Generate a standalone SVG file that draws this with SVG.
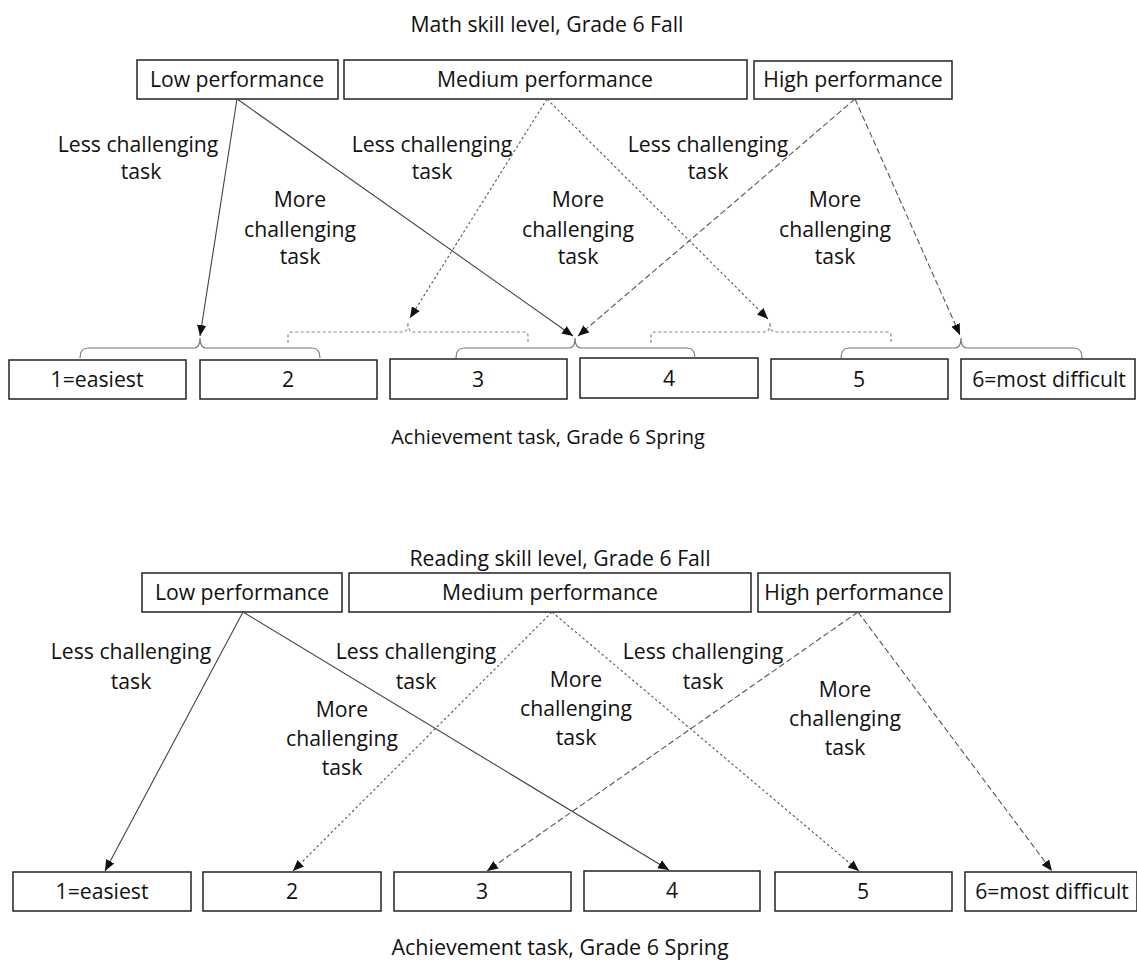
<svg xmlns="http://www.w3.org/2000/svg" width="1137" height="965" viewBox="0 0 1137 965">
<style>
text{font-family:"Open Sans","Liberation Sans",sans-serif;font-size:21.2px;fill:#111;text-anchor:middle}
text.ach{font-size:20px}
.box{fill:#fff;stroke:#222;stroke-width:1.5}
.solid{fill:none;stroke:#444;stroke-width:1.1}
.dot{fill:none;stroke:#555;stroke-width:1.1;stroke-dasharray:2.5 2.5}
.dash{fill:none;stroke:#555;stroke-width:1.1;stroke-dasharray:6 3}
.brace{fill:none;stroke:#777;stroke-width:1.2}
.dbrace{fill:none;stroke:#888;stroke-width:1.2;stroke-dasharray:3 2.5}
</style>
<defs>
<marker id="ah" markerUnits="userSpaceOnUse" markerWidth="11" markerHeight="11" viewBox="0 0 10 10" refX="10" refY="5" orient="auto">
<path d="M0,0.8 L10,5 L0,9.2 Z" fill="#111"/>
</marker>
</defs>
<rect width="1137" height="965" fill="#fff"/>

<text x="547" y="32">Math skill level, Grade 6 Fall</text>
<g id="m-low"><rect class="box" x="137" y="60" width="201" height="39"/><text x="237" y="87">Low performance</text></g>
<g id="m-med"><rect class="box" x="344" y="60" width="403" height="39"/><text x="545" y="87">Medium performance</text></g>
<g id="m-high"><rect class="box" x="754" y="61" width="198" height="38"/><text x="853" y="87">High performance</text></g>

<g id="m-t1"><rect class="box" x="9" y="360" width="177" height="39"/><text x="97" y="387">1=easiest</text></g>
<g id="m-t2"><rect class="box" x="200" y="360" width="177" height="39"/><text x="288" y="387">2</text></g>
<g id="m-t3"><rect class="box" x="390" y="359" width="177" height="40"/><text x="478" y="387">3</text></g>
<g id="m-t4"><rect class="box" x="580" y="358" width="178" height="40"/><text x="669" y="386">4</text></g>
<g id="m-t5"><rect class="box" x="771" y="359" width="177" height="40"/><text x="859" y="387">5</text></g>
<g id="m-t6"><rect class="box" x="961" y="359" width="174" height="40"/><text x="1049" y="387">6=most difficult</text></g>
<text class="ach" x="548" y="444">Achievement task, Grade 6 Spring</text>

<g id="m-braces">
<path class="brace" d="M80,358 Q80,348 88,348 L194,348 Q200,348 200,338 Q200,348 206,348 L312,348 Q320,348 320,358"/>
<path class="brace" d="M456,358 Q456,348 464,348 L569,348 Q575,348 575,338 Q575,348 581,348 L687,348 Q695,348 695,358"/>
<path class="brace" d="M841,358 Q841,348 849,348 L955,348 Q961,348 961,338 Q961,348 967,348 L1074,348 Q1082,348 1082,358"/>
<path class="dbrace" d="M288,343 L288,336 Q288,332 292,332 L403,332 Q408,332 408,322 Q408,332 413,332 L524,332 Q528,332 528,336 L528,343"/>
<path class="dbrace" d="M651,343 L651,336 Q651,332 655,332 L765,332 Q770,332 770,322 Q770,332 775,332 L887,332 Q891,332 891,336 L891,343"/>
</g>

<g id="m-connectors">
<line class="solid" x1="237" y1="99" x2="200" y2="336" marker-end="url(#ah)"/>
<line class="solid" x1="237" y1="99" x2="573" y2="336" marker-end="url(#ah)"/>
<line class="dot" x1="547" y1="99" x2="410" y2="318" marker-end="url(#ah)"/>
<line class="dot" x1="547" y1="99" x2="768" y2="319" marker-end="url(#ah)"/>
<line class="dash" x1="855" y1="99" x2="578" y2="336" marker-end="url(#ah)"/>
<line class="dash" x1="855" y1="99" x2="960" y2="335" marker-end="url(#ah)"/>
</g>

<g id="m-labels">
<text x="138" y="152">Less challenging</text><text x="141" y="179">task</text>
<text x="300" y="207">More</text><text x="300" y="237">challenging</text><text x="300" y="264">task</text>
<text x="432" y="152">Less challenging</text><text x="432" y="179">task</text>
<text x="578" y="207">More</text><text x="578" y="237">challenging</text><text x="578" y="264">task</text>
<text x="708" y="152">Less challenging</text><text x="708" y="179">task</text>
<text x="835" y="207">More</text><text x="835" y="237">challenging</text><text x="835" y="264">task</text>
</g>

<text x="560" y="566">Reading skill level, Grade 6 Fall</text>
<g id="r-low"><rect class="box" x="142" y="573" width="200" height="39"/><text x="242" y="600">Low performance</text></g>
<g id="r-med"><rect class="box" x="349" y="573" width="402" height="39"/><text x="550" y="600">Medium performance</text></g>
<g id="r-high"><rect class="box" x="758" y="573" width="192" height="39"/><text x="854" y="600">High performance</text></g>

<g id="r-t1"><rect class="box" x="13" y="872" width="178" height="39"/><text x="102" y="899">1=easiest</text></g>
<g id="r-t2"><rect class="box" x="203" y="872" width="178" height="39"/><text x="292" y="899">2</text></g>
<g id="r-t3"><rect class="box" x="394" y="872" width="177" height="39"/><text x="482" y="899">3</text></g>
<g id="r-t4"><rect class="box" x="584" y="871" width="176" height="40"/><text x="672" y="898">4</text></g>
<g id="r-t5"><rect class="box" x="775" y="872" width="177" height="39"/><text x="863" y="899">5</text></g>
<g id="r-t6"><rect class="box" x="965" y="872" width="172" height="39"/><text x="1052" y="899">6=most difficult</text></g>
<text x="560" y="955" style="font-size:21.5px">Achievement task, Grade 6 Spring</text>

<g id="r-connectors">
<line class="solid" x1="243" y1="612" x2="105" y2="871" marker-end="url(#ah)"/>
<line class="solid" x1="243" y1="612" x2="669" y2="870" marker-end="url(#ah)"/>
<line class="dot" x1="552" y1="612" x2="293" y2="871" marker-end="url(#ah)"/>
<line class="dot" x1="552" y1="612" x2="859" y2="871" marker-end="url(#ah)"/>
<line class="dash" x1="858" y1="612" x2="487" y2="871" marker-end="url(#ah)"/>
<line class="dash" x1="858" y1="612" x2="1052" y2="871" marker-end="url(#ah)"/>
</g>

<g id="r-labels">
<text x="131" y="659">Less challenging</text><text x="131" y="689">task</text>
<text x="342" y="717">More</text><text x="342" y="746">challenging</text><text x="342" y="775">task</text>
<text x="416" y="659">Less challenging</text><text x="416" y="689">task</text>
<text x="576" y="687">More</text><text x="576" y="716">challenging</text><text x="576" y="745">task</text>
<text x="703" y="659">Less challenging</text><text x="703" y="689">task</text>
<text x="845" y="697">More</text><text x="845" y="726">challenging</text><text x="845" y="755">task</text>
</g>
</svg>
